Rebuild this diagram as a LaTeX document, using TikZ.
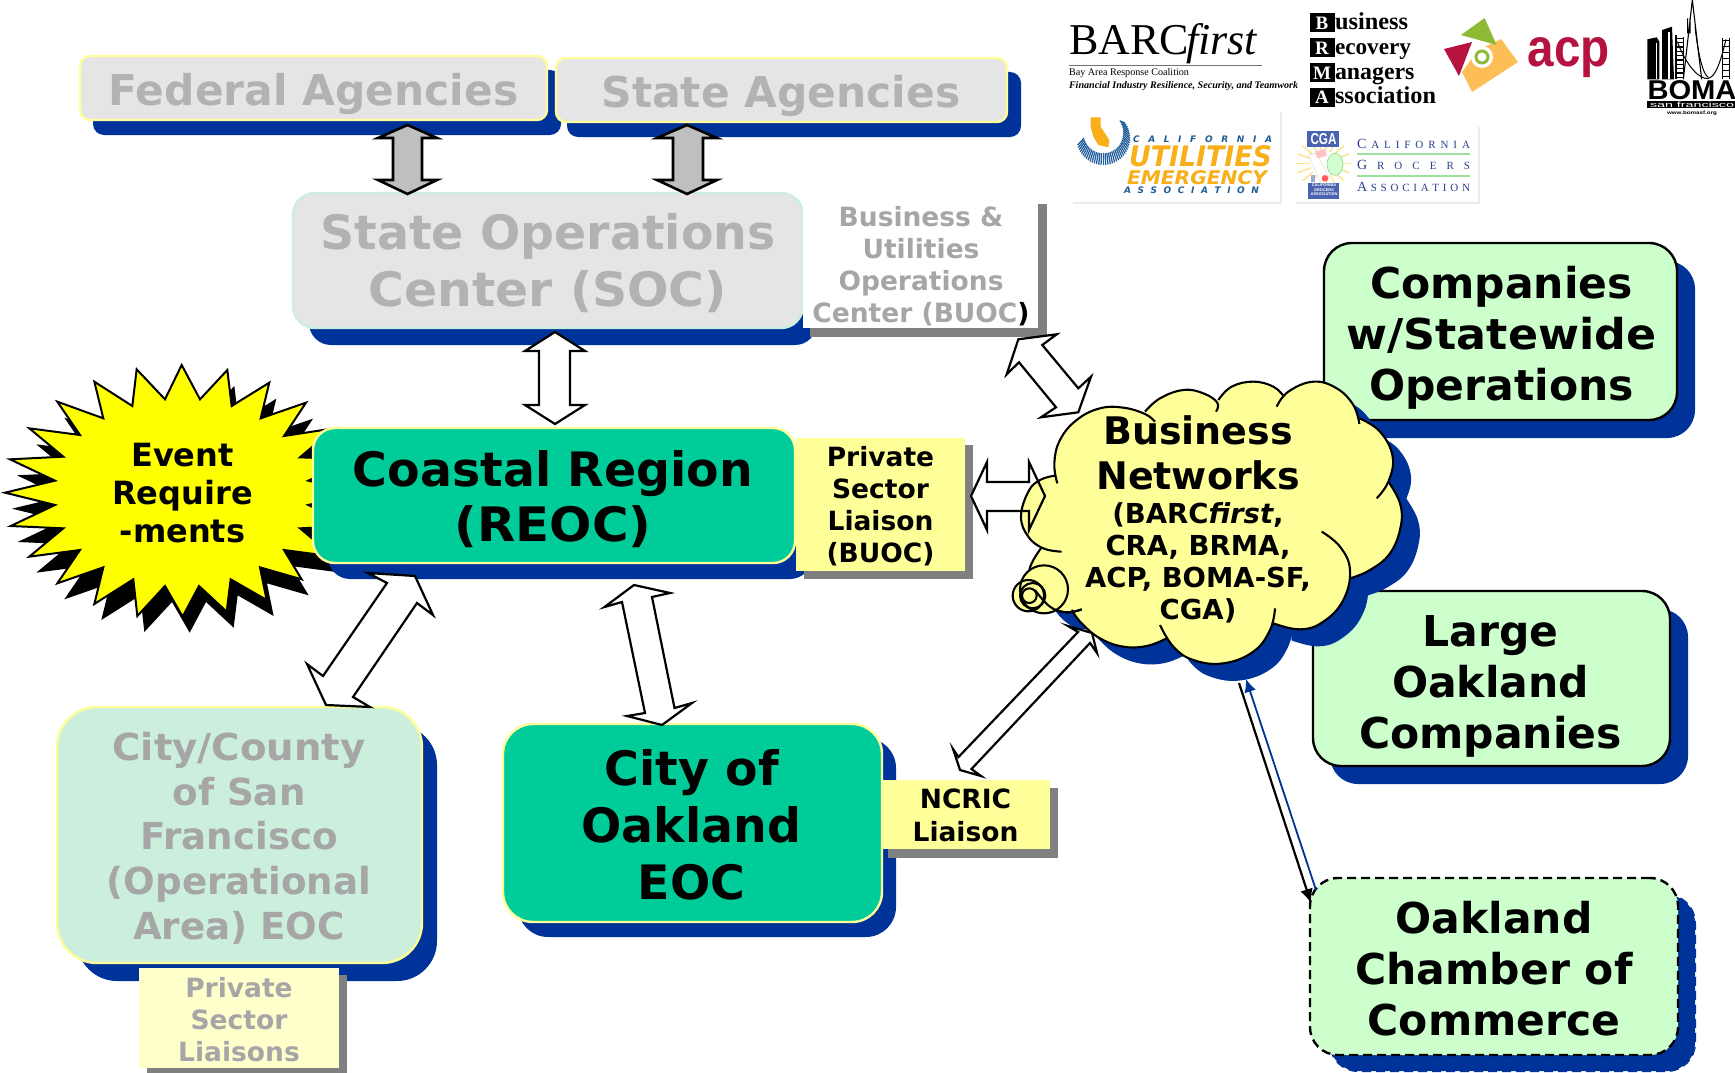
\documentclass[tikz,border=0pt]{standalone}
\usepackage{fontspec}
\usepackage{graphicx}
\setmainfont{DejaVu Sans}
\newfontfamily\lserif{Liberation Serif}
\newfontfamily\lsans{Liberation Sans}
\usetikzlibrary{arrows.meta,calc}
\definecolor{navy}{HTML}{003399}
\definecolor{yel}{HTML}{FFFF99}
\definecolor{pale}{HTML}{FFFFCC}
\definecolor{burstyel}{HTML}{FFFF00}
\definecolor{lgray}{HTML}{E5E5E5}
\definecolor{tgray}{HTML}{B2B2B2}
\definecolor{tgrayb}{HTML}{A6A6A6}
\definecolor{teal}{HTML}{00CC99}
\definecolor{mint}{HTML}{CCEEDD}
\definecolor{lgreen}{HTML}{CCFFCC}
\definecolor{sgray}{HTML}{808080}
\definecolor{uorange}{HTML}{F8AF1A}
\definecolor{ublue}{HTML}{1F5C99}
\definecolor{cgablue}{HTML}{2A3F8F}
\definecolor{cgabox}{HTML}{4A63B0}
\definecolor{acpred}{HTML}{B5123F}
\definecolor{acpgreen}{HTML}{8DBB35}
\definecolor{acporange}{HTML}{FDBE57}
\newcommand\bx[7]{\pgfmathsetmacro\bcx{(#3+#5)/2}\pgfmathsetmacro\bcy{(#4+#6)/2}\pgfmathsetmacro\bw{#5-#3}\pgfmathsetmacro\bh{#6-#4}%
 \node[#1,minimum width=\bw pt,minimum height=\bh pt] (#2) at (\bcx,\bcy) {#7};}
\newcommand\tx[5]{\pgfmathsetmacro\dxx{2*(#1-\bcx)}\pgfmathsetmacro\rz{\bcy-#2-0.36*#3}\raisebox{\rz pt}[0pt][0pt]{\makebox[0pt][c]{\hspace*{\dxx pt}\fontsize{#3}{#4}\selectfont\begin{tabular}[t]{@{}c@{}}#5\end{tabular}}}}
\newcommand\shd[6][navy]{\fill[#1,rounded corners=#6pt] (#2,#3) rectangle (#4,#5);}
\newcommand\sx[2]{\scalebox{#1}[1]{#2}}
\newcommand\burst{(545,75)--(600,178)--(682,90)--(695,198)--(808,128)--(782,235)--(918,188)--(852,288)--(1002,265)--(900,352)--(1060,358)--(925,422)--(1075,458)--(925,495)--(1058,558)--(900,565)--(1002,650)--(852,630)--(905,718)--(780,682)--(800,780)--(692,718)--(680,815)--(597,738)--(548,830)--(495,738)--(412,828)--(400,718)--(283,792)--(310,682)--(172,730)--(240,630)--(88,650)--(190,565)--(32,558)--(165,495)--(15,458)--(165,422)--(30,358)--(190,350)--(88,265)--(240,285)--(172,185)--(310,235)--(283,125)--(397,198)--(410,88)--(495,178)--cycle}
\newcommand\Lone{(292,430)(283,370)(300,300)(350,240)(420,205)(490,203)(555,222)(585,245)}
\newcommand\Ltwo{(555,215)(600,175)(670,150)(730,160)(772,188)(768,215)}
\newcommand\Lthree{(775,180)(815,140)(880,125)(940,140)(972,170)}
\newcommand\Lfour{(950,200)(985,155)(1060,125)(1130,145)(1180,195)(1198,252)}
\newcommand\Lfive{(1198,235)(1260,275)(1298,350)(1285,425)(1250,475)}
\newcommand\Lsix{(1285,425)(1320,490)(1322,560)(1290,640)(1230,690)(1170,715)}
\newcommand\Lseven{(1085,575)(1140,620)(1170,690)(1150,780)(1090,845)(1020,868)(940,850)}
\newcommand\Leight{(945,805)(930,870)(880,935)(790,970)(700,960)(640,920)(600,855)}
\newcommand\Lnine{(620,895)(560,918)(490,920)(420,895)(365,850)(335,810)}
\newcommand\Lten{(365,808)(320,817)(270,800)(225,750)(208,690)(245,622)}
\newcommand\Lelev{(305,635)(250,625)(205,590)(183,530)(205,455)(240,420)(285,407)}
\newcommand\cloudfill{plot[smooth,tension=.7] coordinates {\Lone} -- plot[smooth,tension=.7] coordinates {\Ltwo} -- plot[smooth,tension=.7] coordinates {\Lthree} -- plot[smooth,tension=.7] coordinates {\Lfour} -- plot[smooth,tension=.7] coordinates {\Lfive} -- plot[smooth,tension=.7] coordinates {\Lsix} -- plot[smooth,tension=.7] coordinates {\Lseven} -- plot[smooth,tension=.7] coordinates {\Leight} -- plot[smooth,tension=.7] coordinates {\Lnine} -- plot[smooth,tension=.7] coordinates {\Lten} -- plot[smooth,tension=.7] coordinates {\Lelev} -- cycle}
\newcommand\wide[2]{\resizebox{#1pt}{!}{#2}}
\tikzset{
 x=1pt,y=-1pt,
 every node/.style={inner sep=0pt,outer sep=0pt,font=\bfseries},
 softbox/.style={rectangle,draw=yel,line width=2.4pt,fill=lgray,text=tgray,rounded corners=10pt},
 socbox/.style={rectangle,draw=mint,line width=2.4pt,fill=lgray,text=tgray,rounded corners=22pt},
 tealbox/.style={rectangle,draw=yel,line width=2.4pt,fill=teal,text=black},
 sfbox/.style={rectangle,draw=yel,line width=2.4pt,fill=mint,text=tgrayb,rounded corners=40pt},
 liaison/.style={rectangle,fill=yel,text=black},
 greenbox/.style={rectangle,draw=black,line width=2.4pt,fill=lgreen,text=black,rounded corners=28pt},
 longdash/.style={dash pattern=on 9pt off 5pt},
 blockgray/.style={draw=black,line width=2.6pt,fill=black!25,line join=miter,miter limit=10},
 blockwhite/.style={draw=black,line width=2.2pt,fill=white,line join=miter,miter limit=10},
 cloudline/.style={draw=black,line width=2.1pt},
 zoomtwo/.style={shift={(960,340)},x=.33333pt,y=-.33333pt},
 logotext/.style={font=\lserif,text=black},
}
\begin{document}
\begin{tikzpicture}
\useasboundingbox (0,0) rectangle (1735,1073);
\fill[white] (0,0) rectangle (1735,1073);

% Event burst
\begin{scope}[shift={(7,16)},shift={(0,340)},x=.33333pt,y=-.33333pt]
\fill[black] \burst;
\end{scope}
\begin{scope}[shift={(0,340)},x=.33333pt,y=-.33333pt]
\draw[fill=burstyel,line width=2pt,line join=miter] \burst;
\end{scope}
\node[text=black] (event) at (182.5,453.5) {\raisebox{-13.4pt}[0pt][0pt]{\fontsize{32}{38}\selectfont\begin{tabular}[t]{@{}c@{}}Event\\Require\\-ments\end{tabular}}};

% Top row
\shd{93}{70}{561}{135}{11}
\shd{567}{72}{1021}{137}{11}
\bx{softbox}{federal}{80}{56}{547}{120}{\tx{313.5}{90}{42.4}{50}{Federal Agencies}}
\bx{softbox}{stateag}{556}{58}{1007}{122}{\tx{781}{92}{42.4}{50}{State Agencies}}

% SOC
\shd{309}{210}{817}{345}{22}
\bx{socbox}{soc}{293}{193}{803}{328}{\tx{548}{232}{47.4}{57.5}{State Operations\\\sx{1.03}{Center (SOC)}}}

% BUOC
\fill[sgray] (810,204) rectangle (1047,337);
\bx{rectangle,fill=white,text=tgrayb}{buoc}{803}{204}{1038}{328}{\tx{921}{217}{26.5}{32}{Business \&\\Utilities\\Operations\\Center (BUOC\textcolor{black}{)}}}

% gray block arrows
\coordinate (ga1t) at (407.5,125); \coordinate (ga1b) at (407.5,194);
\draw[blockgray] (ga1t) -- (437,138) -- (422,138) -- (422,180) -- (437,180) -- (ga1b) -- (378,180) -- (393,180) -- (393,138) -- (378,138) -- cycle;
\coordinate (ga2t) at (687,125); \coordinate (ga2b) at (687,194);
\draw[blockgray] (ga2t) -- (717,138) -- (703,138) -- (703,180) -- (717,180) -- (ga2b) -- (657,180) -- (673,180) -- (673,138) -- (657,138) -- cycle;

% REOC
\shd{328}{445}{812}{579}{22}
\bx{tealbox,rounded corners=22pt}{reoc}{313}{428}{795}{563}{\tx{553}{469}{47.4}{55.5}{Coastal Region\\\sx{1.05}{(REOC)}}}

% SOC-REOC arrow
\coordinate (a3t) at (555,332); \coordinate (a3b) at (555,424);
\draw[blockwhite] (a3t) -- (585,351) -- (570,351) -- (570,405) -- (585,405) -- (a3b) -- (525,405) -- (539,405) -- (539,351) -- (525,351) -- cycle;

% PSL
\fill[sgray] (804,445) rectangle (973,579);
\bx{liaison}{psl}{796}{438}{965}{571}{\tx{880.5}{457}{26.5}{32}{Private\\Sector\\Liaison\\(BUOC)}}

% Right-hand boxes
\shd{1342}{261}{1695}{438}{28}
\bx{greenbox}{comp}{1324}{243}{1677}{420}{\tx{1501.5}{283}{42.5}{51}{Companies\\\sx{1.045}{w/Statewide}\\Operations}}
\shd{1330}{609}{1688}{784}{28}
\bx{greenbox}{large}{1313}{591}{1670}{766}{\tx{1490.5}{631}{42.5}{51}{Large\\Oakland\\Companies}}
\draw[navy,fill=navy,line width=2pt,longdash,rounded corners=28pt] (1330,895) rectangle (1695,1071);
\bx{greenbox,longdash}{chamber}{1310}{878}{1678}{1055}{\tx{1494}{918}{42.5}{51}{Oakland\\Chamber of\\Commerce}}

% SF
\shd{77}{725}{437}{981}{40}
\bx{sfbox}{sf}{57}{707}{422}{963}{\tx{239}{747}{37.2}{44.7}{\sx{1.04}{City/County}\\of San\\Francisco\\(Operational\\Area) EOC}}
\fill[sgray] (147,975) rectangle (347,1073);
\bx{rectangle,fill=pale,text=tgrayb}{psls}{139}{968}{339}{1068}{\tx{239}{988}{26.5}{32}{Private\\Sector\\Liaisons}}

% Oakland
\shd{518}{738}{896}{937}{30}
\bx{tealbox,rounded corners=30pt}{oak}{503}{724}{882}{922}{\tx{691.5}{768}{47.4}{57}{City of\\Oakland\\EOC}}
\fill[sgray] (888,788) rectangle (1058,858);
\bx{liaison}{ncric}{882}{780}{1050}{849}{\tx{965.5}{799}{26.5}{32.5}{NCRIC\\Liaison}}

% REOC-SF arrow
\coordinate (a6t) at (415,576); \coordinate (a6b) at (326,705);
\draw[blockwhite] (368,573) -- (a6t) -- (433,615) -- (417,603) -- (353,697) -- (370,707) -- (a6b) -- (307,664) -- (323,676) -- (387,583) -- cycle;
% REOC-Oakland arrow
\coordinate (a7t) at (634,585); \coordinate (a7b) at (662,725);
\draw[blockwhite] (a7t) -- (670,593) -- (652,597) -- (674.5,708) -- (692,703) -- (a7b) -- (627,716) -- (645,713) -- (622,602) -- (604.5,607) -- cycle;

% Cloud shadow
\begin{scope}[shift={(18,17)},zoomtwo]
\fill[navy] \cloudfill;
\end{scope}

% Arrows to cloud
\coordinate (a4t) at (1018.3,339.3); \coordinate (a4b) at (1078.3,412.3);
\draw[blockwhite] (1056.7,334.3) -- (a4t) -- (1006.7,374.3) -- (1019,362.3) -- (1056,407.3) -- (1041,417.3) -- (a4b) -- (1091,376.7) -- (1078.3,388.3) -- (1042.3,345) -- cycle;
\coordinate (a8t) at (1092,633); \coordinate (a8b) at (960,770);
\draw[blockwhite] (1068,626) -- (a8t) -- (1097,653) -- (1090,643) -- (971.5,769) -- (981,776) -- (a8b) -- (953,749) -- (958.5,757) -- (1078,632) -- cycle;
\coordinate (a5l) at (971,496); \coordinate (a5r) at (1045,496);
\fill[white] (a5l) -- (987,462) -- (987,482) -- (1029,482) -- (1029,462) -- (a5r) -- (1029,530) -- (1029,511) -- (987,511) -- (987,530) -- cycle;

% Cloud
\begin{scope}[zoomtwo]
\fill[yel] \cloudfill;
\fill[yel] (750,540) ellipse (440 and 330);
\foreach \L in {\Lone,\Ltwo,\Lthree,\Lfour,\Lfive,\Lsix,\Lseven,\Leight,\Lnine,\Lten,\Lelev}{
  \draw[cloudline] plot[smooth,tension=.7] coordinates {\L};
}
\fill[yel] (252,748) circle (72);
\fill[yel] (205,767) circle (47);
\draw[cloudline] plot[smooth,tension=.7] coordinates {(365,808)(320,817)(270,800)(225,750)};
\draw[cloudline] (252,748) circle (72);
\draw[cloudline] (205,767) circle (47);
\draw[cloudline] (218,767) circle (38);
\draw[cloudline] (208,767) circle (22);
\end{scope}
\draw[black,line width=2.2pt,line join=miter,miter limit=10] (a5l) -- (987,462) -- (987,482) -- (1029,482) -- (1029,462) -- (a5r) -- (1029,530) -- (1029,511) -- (987,511) -- (987,530) -- cycle;
\node[text=black] (cloudtitle) at (1198,430.5) {\raisebox{-13.7pt}[0pt][0pt]{\fontsize{38}{45}\selectfont\begin{tabular}[t]{@{}c@{}}Business\\Networks\end{tabular}}};
\node[text=black] (cloudsub) at (1198,514) {\raisebox{-9.9pt}[0pt][0pt]{\fontsize{27.5}{31.7}\selectfont\begin{tabular}[t]{@{}c@{}}(BARC\textit{first},\\CRA, BRMA,\\ACP, BOMA-SF,\\CGA)\end{tabular}}};

% Thin arrows cloud <-> chamber
\coordinate (cloudA) at (1239,683); \coordinate (cloudB) at (1246,679);
\coordinate (chamA) at (1311,903); \coordinate (chamB) at (1316,890);
\draw[black,line width=2.2pt,-{Latex[length=14pt,width=13pt]}] (cloudA) -- (chamA);
\draw[navy,line width=1.8pt,-{Latex[length=13pt,width=12pt]}] (chamB) -- (cloudB);

% Logos: BARCfirst
\node[logotext,anchor=base west] (barc) at (1069,55) {\lserif\fontsize{44}{44}\selectfont\mdseries BARC};
\node[logotext,anchor=base west] (first) at (1186,55) {\lserif\fontsize{44}{44}\selectfont\mdseries\itshape first};
\draw[black!55,line width=1pt] (1069,66) -- (1262,66);
\node[logotext,anchor=west] (barc2) at (1069,73) {\wide{120}{\lserif\mdseries Bay Area Response Coalition}};
\node[logotext,anchor=west] (barc3) at (1069,86) {\wide{229}{\lserif\bfseries\itshape Financial Industry Resilience, Security, and Teamwork}};

% BRMA
\foreach \nn/\yy/\lft/\rgt/\ww in {1/23/B/usiness/73,2/48/R/ecovery/76,3/73/M/anagers/79.5,4/97/A/ssociation/101}{
  \fill[black] (1310,\yy-9.5) rectangle (1334.5,\yy+9.5);
  \node[text=white,anchor=base] (brmal\nn) at (1322,\yy+6.5) {\lserif\bfseries\fontsize{19}{20}\selectfont \lft};
  \node[logotext,anchor=base west] (brmar\nn) at (1335,\yy+6.5) {\resizebox{\ww pt}{!}{\lserif\bfseries \rgt}};
}

% ACP
\fill[acporange] (1501,39) -- (1518,62) -- (1472,92) -- (1462,72) -- (1478,50) -- cycle;
\fill[acpred] (1444,49) -- (1472,42) -- (1459,76) -- cycle;
\fill[acpgreen] (1484.6,18) -- (1496.6,45) -- (1461,35) -- cycle;
\fill[white] (1482,57) circle (11);
\draw[acpgreen,line width=3pt] (1482,57) circle (6);
\node[text=acpred,anchor=base west] (acp) at (1527.6,67) {\resizebox{82pt}{29pt}{\lsans\bfseries acp}};

% BOMA
\begin{scope}[shift={(1640,0)},x=.33333pt,y=-.33333pt]
\fill[black] (22,118) -- (50,112) -- (58,125) -- (58,238) -- (22,238) -- cycle;
\fill[white] (48,130) rectangle (52,238);
\fill[black] (66,90) -- (96,80) -- (102,238) -- (66,238) -- cycle;
\fill[white] (84,95) rectangle (91,238);
\draw[black,line width=1.5pt] (108,105) -- (108,238) (130,112) -- (130,238);
\foreach \hh in {115,128,...,235}{\draw[black,line width=1.2pt] (108,\hh) -- (130,\hh);}
\draw[black,line width=1.1pt] (157,0) -- (130,238) (157,0) -- (185,238) (143,55) -- (143,100) (150,55) -- (150,100);
\draw[black,line width=1.3pt] (248,115) -- (248,238) (268,115) -- (268,238);
\foreach \hh in {122,140,...,235}{\draw[black,line width=1.4pt] (248,\hh) -- (268,\hh);}
\draw[black,line width=1pt] (112,125) .. controls (140,200) and (180,240) .. (205,235) .. controls (230,230) and (245,170) .. (258,118);
\draw[black,line width=1pt] (165,80) .. controls (175,170) and (190,225) .. (205,232);
\fill[black] (22,302) rectangle (290,325);
\end{scope}
\node[text=black] (boma) at (1692,89.7) {\resizebox{89pt}{19pt}{\lsans\bfseries BOMA}};
\node[text=white] (bomasf) at (1692,104.5) {\resizebox{84pt}{5.5pt}{\lsans\mdseries san francisco}};
\node[text=black] (bomaw) at (1692,113) {\resizebox{50pt}{3.5pt}{\lsans www.bomasf.org}};

% CUEA
\fill[black!8] (1073,112) rectangle (1281.5,204);
\fill[white] (1071,112) rectangle (1279.5,202);
\begin{scope}[shift={(1070,110)},x=.33333pt,y=-.33333pt]
\foreach \a in {-35,-30,...,168}{
  \draw[ublue,line width=1.25pt] ({100+80*cos(\a)},{85+80*sin(\a)}) -- ({100+60*cos(\a)},{68+62*sin(\a)});
}
\fill[uorange] (62,22) -- (92,22) -- (92,50) -- (118,90) -- (115,112) -- (85,105) -- (70,80) -- (62,50) -- cycle;
\end{scope}
\node[text=ublue] (cu1) at (1202.5,139) {\makebox[139pt][s]{\normalfont\bfseries\itshape\fontsize{9}{10}\selectfont C\hfill A\hfill L\hfill I\hfill F\hfill O\hfill R\hfill N\hfill I\hfill A}};
\node[text=uorange] (cu2) at (1200.5,156.5) {\resizebox{143pt}{21pt}{\normalfont\bfseries\itshape UTILITIES}};
\node[text=uorange] (cu3) at (1197,178) {\resizebox{140pt}{14pt}{\normalfont\bfseries\itshape EMERGENCY}};
\node[text=ublue] (cu4) at (1191.5,190) {\makebox[135pt][s]{\normalfont\bfseries\itshape\fontsize{9}{10}\selectfont A\hfill S\hfill S\hfill O\hfill C\hfill I\hfill A\hfill T\hfill I\hfill O\hfill N}};

% CGA
\fill[black!8] (1296,127) rectangle (1480,204);
\fill[white] (1294,127) rectangle (1478,202);
\begin{scope}[shift={(1290,125)},x=.33333pt,y=-.33333pt]
\foreach \a in {0,20,...,340}{\draw[yellow!60!orange!45,line width=1.4pt] (100,115) -- +(\a:82);}
\fill[white] (100,115) circle (40);
\fill[green!18!white,draw=green!40!gray!60,line width=.6pt] (135,118) ellipse (24 and 33);
\fill[white,draw=black!15] (55,90) -- (80,85) -- (118,160) -- (92,172) -- cycle;
\fill[pink!80!red!60] (75,80) -- (105,72) -- (110,92) -- (82,100) -- cycle;
\fill[cyan!35!blue!40] (62,150) rectangle (75,172);
\fill[red!65] (105,160) circle (10);
\fill[cgabox] (52,18) rectangle (148,65);
\fill[cgabox] (55,175) rectangle (148,222);
\end{scope}
\node[text=white] (cga1) at (1323.5,139) {\resizebox{26pt}{11pt}{\lsans\bfseries CGA}};
\node[text=white] (cga2) at (1324,190.5) {\resizebox{27pt}{!}{\lsans\bfseries\fontsize{4}{4.5}\selectfont\begin{tabular}{@{}c@{}}CALIFORNIA\\GROCERS\\ASSOCIATION\end{tabular}}};
\node[text=cgablue] (cg1) at (1413.5,144) {\makebox[113pt][s]{\lserif\mdseries\fontsize{14}{14}\selectfont C\hfill\fontsize{11}{11}\selectfont A\hfill L\hfill I\hfill F\hfill O\hfill R\hfill N\hfill I\hfill A}};
\draw[green!50!gray!50,line width=1.2pt] (1357,154) -- (1470,154);
\node[text=cgablue] (cg2) at (1413.5,165) {\makebox[113pt][s]{\lserif\mdseries\fontsize{14}{14}\selectfont G\hfill\fontsize{11}{11}\selectfont R\hfill O\hfill C\hfill E\hfill R\hfill S}};
\draw[green!50!gray!50,line width=1.2pt] (1357,176) -- (1470,176);
\node[text=cgablue] (cg3) at (1413.5,187) {\makebox[113pt][s]{\lserif\mdseries\fontsize{14}{14}\selectfont A\hfill\fontsize{11}{11}\selectfont S\hfill S\hfill O\hfill C\hfill I\hfill A\hfill T\hfill I\hfill O\hfill N}};
\end{tikzpicture}
\end{document}
